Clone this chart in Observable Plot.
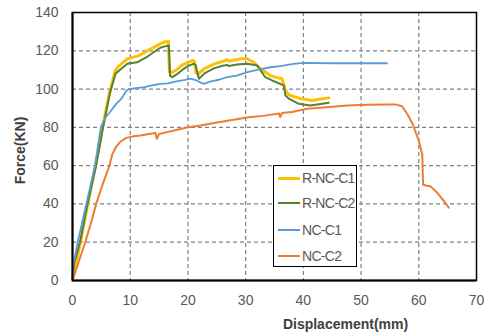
<!DOCTYPE html>
<html>
<head>
<meta charset="utf-8">
<script src="https://cdn.jsdelivr.net/npm/d3@7"></script>
<script src="https://cdn.jsdelivr.net/npm/@observablehq/plot@0.6"></script>
<style>
  html, body { margin: 0; padding: 0; background: #fff; }
  #wrap { position: relative; width: 490px; height: 336px; font-family: "Liberation Sans", Arial, sans-serif; }
  #legend { position: absolute; left: 273px; top: 165px; width: 84px; height: 102px; border: 1px solid #000; background: #fff; box-sizing: border-box; }
  .item { position: absolute; left: 4px; height: 16px; display: flex; align-items: center; font-size: 14px; color: #595959; letter-spacing: -0.7px; white-space: nowrap; }
  .swatch { width: 22px; margin-right: 2px; flex: none; }
</style>
</head>
<body>
<div id="wrap"></div>
<script>
const seriesNames = ["R-NC-C1", "R-NC-C2", "NC-C1", "NC-C2"];
const seriesColors = ["#FFC000", "#548235", "#5B9BD5", "#ED7D31"];
const seriesWidths = [3, 2, 1.8, 2];

const rnc1X = [0, 0.5, 1.5, 2.8, 4.1, 5.2, 6.4, 7.4, 8.0, 9.5, 11.5, 13, 15.2, 16.0, 16.6, 16.8, 17.3, 18, 19, 20, 20.8, 21.1, 21.4, 21.8, 23, 24.5, 26, 26.8, 27.1, 28.5, 29.1, 30.3, 31.4, 32.6, 34.3, 35.5, 36.3, 36.9, 37.5, 39.5, 41.5, 43, 44.4];
const rnc1Y = [0, 7, 22, 42, 62, 80, 98, 109.5, 112, 115.8, 117.5, 120, 123.6, 124.6, 125, 109, 108.8, 110, 112.5, 114, 115, 114.6, 108.5, 108, 111, 113, 114.5, 115.3, 114.6, 115.4, 115.8, 115.8, 114, 110.6, 107, 106, 105.4, 99.3, 97, 95, 94, 94.8, 95.4];

const rnc2X = [0, 0.3, 1.3, 2.6, 4.1, 5.3, 6.5, 7.45, 8.2, 9.5, 11.2, 13, 15.2, 16.0, 16.7, 16.9, 17.3, 18, 19, 20, 21.0, 21.3, 21.9, 23, 24.5, 26, 26.8, 27.1, 28.5, 30.3, 32, 33.4, 34.6, 36.6, 36.9, 37.5, 39.2, 41.2, 43, 44.4];
const rnc2Y = [0, 9, 20, 40, 60, 80, 98, 108, 110, 113.2, 114, 117, 121.6, 122.3, 122.8, 107, 106.2, 107.5, 110, 112, 113.2, 112.8, 105.4, 108.5, 110.8, 112.2, 112.6, 112, 112.8, 113.2, 112.3, 106.2, 104.5, 101.9, 96.6, 95, 92.3, 91.4, 92.2, 92.8];

const nc1X = [0, 0.15, 0.9, 2.4, 3.9, 4.9, 5.7, 6.5, 7.5, 8.5, 9.3, 9.8, 11, 12.5, 14, 15.2, 16.5, 18, 19.5, 20.4, 21.5, 22.7, 24, 25.5, 26.8, 28.5, 30.3, 32, 34.3, 36, 38.3, 40.1, 45, 50, 54.5];
const nc1Y = [0, 8, 20, 40, 60, 80, 85, 88, 92, 95, 99, 100, 100.5, 101, 102, 102.7, 103, 104, 104.8, 105.4, 104.5, 102.7, 104, 105, 106.2, 107, 108.8, 110, 111.4, 112, 113.2, 113.7, 113.5, 113.5, 113.5];

const nc2X = [0, 1, 2.2, 3.2, 4.1, 5.2, 6.4, 6.9, 7.5, 8.3, 9.3, 10.5, 11.8, 13, 14.4, 14.6, 15, 16.4, 18.5, 20, 22.2, 25, 27.9, 30.5, 33, 35.8, 36.0, 36.3, 38, 40.7, 44, 47.6, 51, 54.5, 56, 57.1, 58, 58.9, 60, 60.6, 60.75, 61.2, 62, 63, 63.8, 64.5, 65.2];
const nc2Y = [0, 9, 20, 30, 40, 50, 60, 66, 69.5, 72.5, 74.5, 75.3, 75.8, 76.4, 77, 74, 76.5, 77.5, 79, 80, 81, 82.5, 84, 85.3, 86, 87.2, 85.3, 87.5, 88, 89.7, 90.5, 91.4, 91.8, 92, 92, 91, 87, 82, 73, 66, 50, 49.6, 49.2, 46.5, 43.5, 41, 38];

const xTicks = [0, 10, 20, 30, 40, 50, 60, 70];
const yTicks = [0, 20, 40, 60, 80, 100, 120, 140];
const xLabel = "Displacement(mm)";
const yLabel = "Force(KN)";

const seriesXs = [rnc1X, rnc2X, nc1X, nc2X];
const seriesYs = [rnc1Y, rnc2Y, nc1Y, nc2Y];
const rows = seriesNames.map((name, i) => seriesXs[i].map((x, j) => ({series: name, x, y: seriesYs[i][j]})));

const chart = Plot.plot({
  width: 490,
  height: 336,
  marginLeft: 72,
  marginRight: 14,
  marginTop: 12,
  marginBottom: 56,
  style: {fontFamily: "'Liberation Sans', Arial, sans-serif", background: "#fff", overflow: "visible"},
  x: {domain: [0, 70], ticks: xTicks},
  y: {domain: [0, 140], ticks: yTicks},
  marks: [
    Plot.gridX(xTicks.filter(t => t > 0 && t < 70), {stroke: "#808080", strokeOpacity: 1, strokeWidth: 1.2, strokeDasharray: "4,3"}),
    Plot.gridY(yTicks.filter(t => t > 0 && t < 140), {stroke: "#808080", strokeOpacity: 1, strokeWidth: 1.2, strokeDasharray: "4,3"}),
    Plot.frame({stroke: "#000", strokeWidth: 1.5}),
    Plot.axisX({ticks: xTicks, tickSize: 0, tickPadding: 15, label: null, fontSize: 14, color: "#595959"}),
    Plot.axisY({ticks: yTicks, tickSize: 0, tickPadding: 14, label: null, fontSize: 14, color: "#595959"}),
    ...rows.map((data, i) => Plot.line(data, {x: "x", y: "y", stroke: seriesColors[i], strokeWidth: seriesWidths[i], strokeLinejoin: "round"})),
    Plot.ruleX([0], {stroke: "#000", strokeWidth: 2}),
    Plot.ruleY([0], {stroke: "#000", strokeWidth: 2}),
    Plot.text([xLabel], {frameAnchor: "bottom", dx: 71, dy: 44, fontSize: 14, fontWeight: "bold", fill: "#404040", textAnchor: "middle", lineAnchor: "middle"}),
    Plot.text([yLabel], {frameAnchor: "left", dx: -52, dy: 4, rotate: -90, fontSize: 14, fontWeight: "bold", fill: "#404040", textAnchor: "middle", lineAnchor: "middle"})
  ]
});

const wrap = document.getElementById("wrap");
wrap.appendChild(chart);

const legend = document.createElement("div");
legend.id = "legend";
const itemTops = [4, 29, 56, 82];
seriesNames.forEach((name, i) => {
  const it = document.createElement("div");
  it.className = "item";
  it.style.top = itemTops[i] + "px";
  const sw = document.createElement("div");
  sw.className = "swatch";
  sw.style.height = (i === 0 ? 3 : 2) + "px";
  sw.style.background = seriesColors[i];
  const tx = document.createElement("span");
  tx.textContent = name;
  it.appendChild(sw);
  it.appendChild(tx);
  legend.appendChild(it);
});
wrap.appendChild(legend);
</script>
</body>
</html>
